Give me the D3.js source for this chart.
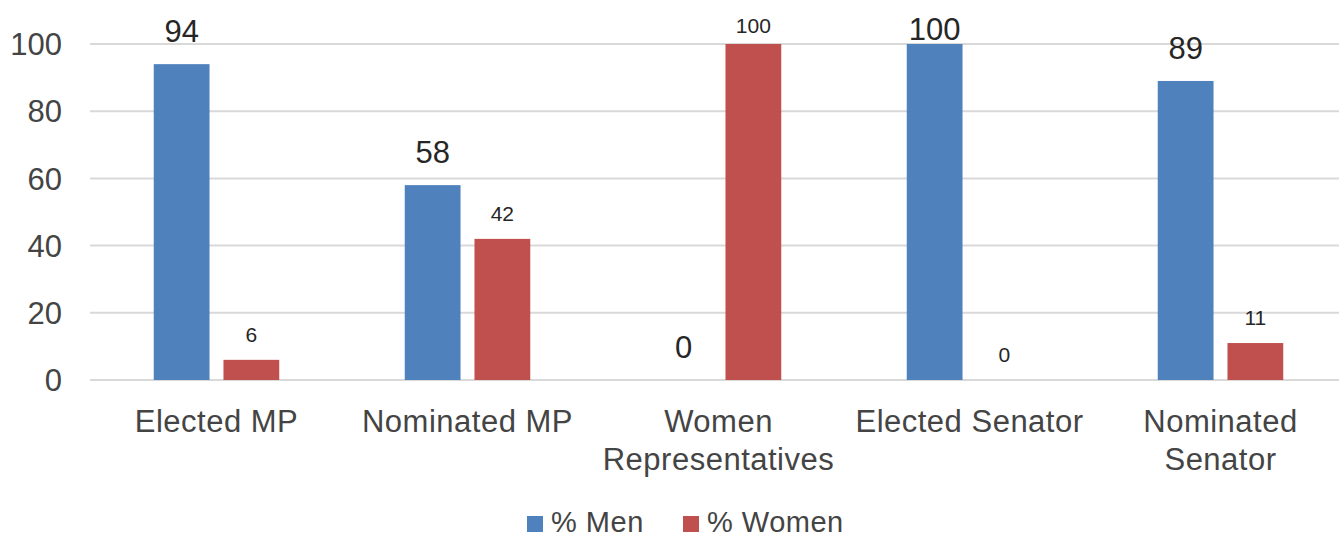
<!DOCTYPE html>
<html>
<head>
<meta charset="utf-8">
<script src="https://cdn.jsdelivr.net/npm/d3@7"></script>
<style>
  body { margin: 0; background: #fff; }
  svg { display: block; font-family: "Liberation Sans", Arial, Helvetica, sans-serif; }
</style>
</head>
<body>
<svg id="chart" width="1339" height="539"></svg>
<script>
// chart data
const categories = ["Elected MP", "Nominated MP", "Women\nRepresentatives", "Elected Senator", "Nominated\nSenator"];
const menValues = [94, 58, 0, 100, 89];
const womenValues = [6, 42, 100, 0, 11];
const seriesNames = ["% Men", "% Women"];
const yTicks = [0, 20, 40, 60, 80, 100];

const colors = ["#4f81bd", "#c0504d"];

const width = 1339, height = 539;
const svg = d3.select("#chart");

let x = d3.scaleBand()
    .domain(categories)
    .range([91, 1346]);

let xInner = d3.scaleBand()
    .domain([0, 1])
    .range([0, x.bandwidth()])
    .paddingInner(0.2)
    .paddingOuter(0.9);

let y = d3.scaleLinear()
    .domain([0, 100])
    .range([380, 44]);

// gridlines
svg.append("g")
    .selectAll("line")
    .data(yTicks)
    .join("line")
        .attr("x1", 90)
        .attr("x2", width)
        .attr("y1", d => y(d))
        .attr("y2", d => y(d))
        .attr("stroke", "#d9d9d9")
        .attr("stroke-width", 2);

// y tick labels
svg.append("g")
    .selectAll("text")
    .data(yTicks)
    .join("text")
        .attr("x", 62)
        .attr("y", d => y(d))
        .attr("dy", "0.36em")
        .attr("text-anchor", "end")
        .attr("font-size", "31px")
        .attr("fill", "#444")
        .text(d => d);

let rows = categories.map((c, i) => ({ category: c, values: [menValues[i], womenValues[i]] }));

let groups = svg.append("g")
    .selectAll("g")
    .data(rows)
    .join("g")
        .attr("transform", d => `translate(${x(d.category)},0)`);

groups.selectAll("rect")
    .data(d => d.values.map((v, s) => ({ v, s })))
    .join("rect")
        .attr("x", d => xInner(d.s))
        .attr("width", xInner.bandwidth())
        .attr("y", d => y(d.v))
        .attr("height", d => y(0) - y(d.v))
        .attr("fill", d => colors[d.s]);

// value labels: men larger, women smaller
groups.selectAll("text.value")
    .data(d => d.values.map((v, s) => ({ v, s })))
    .join("text")
        .classed("value", true)
        .attr("x", d => xInner(d.s) + xInner.bandwidth() / 2)
        .attr("y", d => d.s === 0 ? Math.max(40, y(d.v) - 22) : Math.max(33, y(d.v) - 18))
        .attr("text-anchor", "middle")
        .attr("font-size", d => d.s === 0 ? "31px" : "21px")
        .attr("fill", "#262626")
        .text(d => d.v);

// category labels
let catLabels = svg.append("g")
    .selectAll("text")
    .data(categories)
    .join("text")
        .attr("x", d => x(d) + x.bandwidth() / 2)
        .attr("y", 432)
        .attr("text-anchor", "middle")
        .attr("font-size", "31px")
        .attr("letter-spacing", "0.5px")
        .attr("fill", "#444");

catLabels.selectAll("tspan")
    .data(d => d.split("\n"))
    .join("tspan")
        .attr("x", function() { return d3.select(this.parentNode).attr("x"); })
        .attr("dy", (d, i) => i === 0 ? 0 : 38)
        .text(d => d);

// legend
let legendX = [527, 683];
let legend = svg.append("g")
    .selectAll("g")
    .data(seriesNames)
    .join("g")
        .attr("transform", (d, i) => `translate(${legendX[i]},516)`);

legend.append("rect")
    .attr("width", 16)
    .attr("height", 16)
    .attr("fill", (d, i) => colors[i]);

legend.append("text")
    .attr("x", 24)
    .attr("y", 16)
    .attr("font-size", "29px")
    .attr("letter-spacing", "0.5px")
    .attr("fill", "#444")
    .text(d => d);
</script>
</body>
</html>
